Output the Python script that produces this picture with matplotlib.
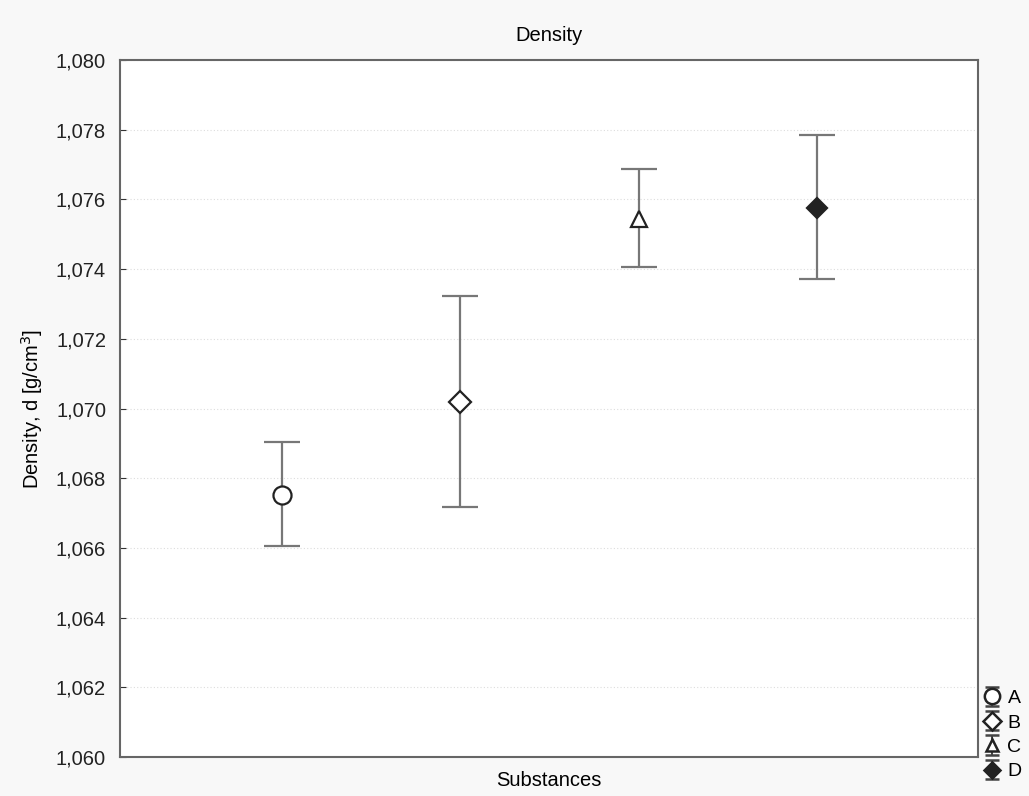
import matplotlib.pyplot as plt
from matplotlib.ticker import FuncFormatter, MultipleLocator

plt.rcParams["font.family"] = ["Liberation Sans", "DejaVu Sans"]

substances = ["A", "B", "C", "D"]
means = [1.06752, 1.07019, 1.07544, 1.07575]
upper = [1.06904, 1.07323, 1.07687, 1.07785]
lower = [1.06606, 1.06717, 1.07406, 1.07372]

markers = ["o", "D", "^", "D"]
faces = ["white", "white", "white", "#222222"]
sizes = [13, 11, 11, 10]


def comma(v, pos):
    return f"{v:.3f}".replace(".", ",")


fig = plt.figure(figsize=(10.29, 7.96), dpi=100, facecolor="#f8f8f8")
ax = fig.add_axes([0.1166, 0.049, 0.8338, 0.8756])
ax.set_facecolor("white")

handles = []
for i, name in enumerate(substances):
    x = i + 1
    err = [[means[i] - lower[i]], [upper[i] - means[i]]]
    ax.errorbar(
        [x], [means[i]], yerr=err,
        fmt=markers[i], ms=sizes[i], mfc=faces[i], mec="#222222", mew=1.6,
        ecolor="#777777", elinewidth=1.6, capsize=13, capthick=1.8,
        zorder=3,
    )
    # small-capped copy for the legend key only
    h = ax.errorbar(
        [float("nan")], [float("nan")], yerr=[[0], [0]],
        fmt=markers[i], ms=sizes[i] * 0.85, mfc=faces[i], mec="#222222", mew=1.8,
        ecolor="#444444", elinewidth=1.4, capsize=5, capthick=1.4,
    )
    handles.append(h)

ax.set_xlim(0.09, 4.905)
ax.set_ylim(1.060, 1.080)
ax.yaxis.set_major_locator(MultipleLocator(0.002))
ax.yaxis.set_major_formatter(FuncFormatter(comma))
ax.set_xticks([])
ax.tick_params(axis="y", direction="in", length=4, labelsize=14.5, colors="#333333",
               labelcolor="#222222", pad=10)
ax.grid(axis="y", ls=(0, (1, 2)), color="#dddddd", lw=0.8)
for s in ax.spines.values():
    s.set_color("#666666")
    s.set_linewidth(1.5)

ax.set_title("Density", fontsize=14.5, pad=14)
ax.set_xlabel("Substances", fontsize=14.5, labelpad=10)
ax.set_ylabel("Density, d [g/cm$^3$]", fontsize=14.5, labelpad=8)

leg = fig.legend(
    handles=handles, labels=substances, loc="lower left",
    bbox_to_anchor=(0.946, 0.005), frameon=False, fontsize=14,
    handlelength=0.7, handletextpad=0.45, labelspacing=0.35,
    borderaxespad=0.2,
)

fig.savefig("out.png", dpi=100, facecolor=fig.get_facecolor())
